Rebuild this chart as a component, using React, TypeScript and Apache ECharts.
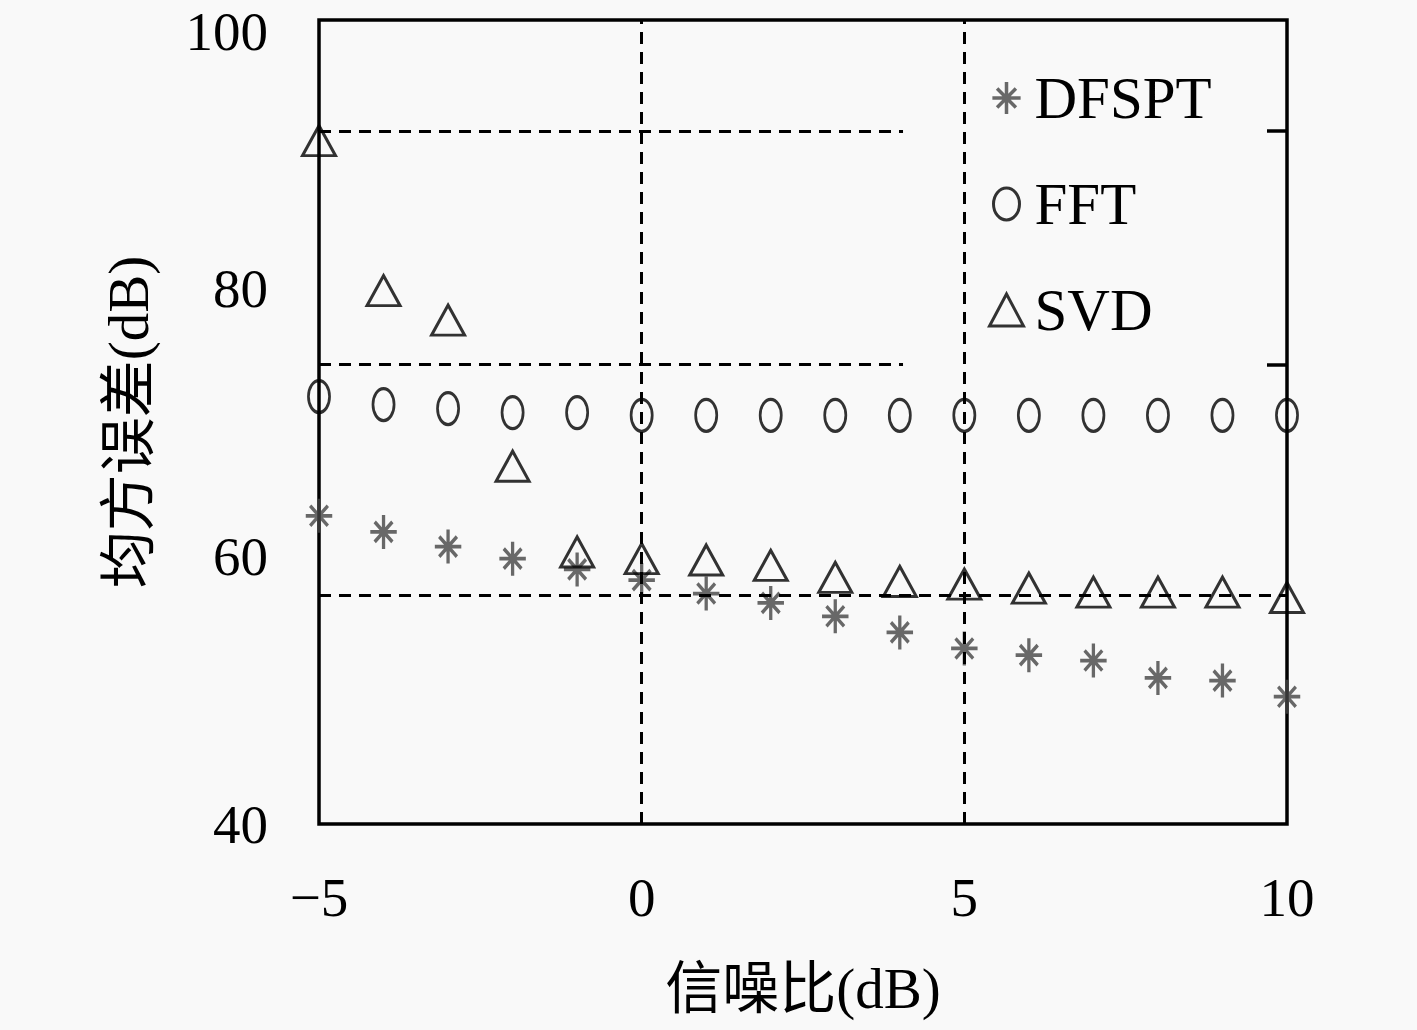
import React, { useEffect, useRef } from "react";
import * as echarts from "echarts";

const snr = [-5, -4, -3, -2, -1, 0, 1, 2, 3, 4, 5, 6, 7, 8, 9, 10];
const dfspt = [63.0, 61.8, 60.7, 59.8, 59.0, 58.2, 57.2, 56.5, 55.5, 54.3, 53.1, 52.6, 52.2, 50.9, 50.7, 49.5];
const fft = [71.9, 71.3, 71.0, 70.7, 70.7, 70.5, 70.5, 70.5, 70.5, 70.5, 70.5, 70.5, 70.5, 70.5, 70.5, 70.5];
const svd = [91.0, 79.8, 77.6, 66.7, 60.3, 59.8, 59.7, 59.3, 58.4, 58.1, 57.9, 57.6, 57.3, 57.3, 57.3, 56.9];

const seriesNames = ["DFSPT", "FFT", "SVD"];
const xTicks = [-5, 0, 5, 10];
const yTicks = [40, 60, 80, 100];

// reference lines
const hRefShort = [91.7, 74.3]; // dashed, from x=-5 to x=4.05
const hRefShortEnd = 4.05;
const hRefFull = [57.1];
const vRef = [0, 5];
const rightTicks = [91.7, 74.3];

const FONT = "'Liberation Serif', 'Noto Sans CJK SC', serif";
const STAR = "path://M0,-17L0,17M-15,0L15,0M-10,-10L10,10M-10,10L10,-10";
const ELLIPSE = "path://M0,-16A13,16 0 1 1 0,16A13,16 0 1 1 0,-16Z";

export default function App() {
  const ref = useRef<HTMLDivElement>(null);
  useEffect(() => {
    if (!ref.current) return;
    const chart = echarts.init(ref.current, null, { renderer: "svg" });
    const pts = (ys: number[]) => snr.map((x, i) => [x, ys[i]]);
    const dash = { color: "#000", width: 3, type: [12, 8] as any };
    const markData: any[] = [];
    hRefShort.forEach((v) =>
      markData.push([{ coord: [xTicks[0], v], lineStyle: dash }, { coord: [hRefShortEnd, v] }])
    );
    hRefFull.forEach((v) =>
      markData.push([{ coord: [xTicks[0], v], lineStyle: dash }, { coord: [xTicks[3], v] }])
    );
    vRef.forEach((x) =>
      markData.push([{ coord: [x, yTicks[0]], lineStyle: dash }, { coord: [x, yTicks[3]] }])
    );
    rightTicks.forEach((v) =>
      markData.push([
        { coord: [xTicks[3] - 0.31, v], lineStyle: { color: "#000", width: 3.5, type: "solid" } },
        { coord: [xTicks[3], v] },
      ])
    );

    const hollow = (c: string, w: number) => ({ color: "rgba(0,0,0,0)", borderColor: c, borderWidth: w });
    const labelBase = { fontFamily: FONT, fontSize: 55, color: "#000" };

    chart.setOption({
      animation: false,
      backgroundColor: "#f9f9f9",
      grid: {
        left: 319,
        top: 20,
        right: 130,
        bottom: 206,
        show: true,
        borderColor: "#000",
        borderWidth: 3.5,
        backgroundColor: "transparent",
        outerBoundsMode: "none",
        containLabel: false,
      },
      legend: {
        orient: "vertical",
        left: 983,
        top: 62,
        itemWidth: 34,
        itemHeight: 32,
        itemGap: 44,
        textStyle: { fontFamily: FONT, fontSize: 59, color: "#000", lineHeight: 62, padding: [0, 0, 0, 6] },
        data: [
          { name: "DFSPT", icon: STAR, itemStyle: hollow("#444", 3.5) },
          { name: "FFT", icon: ELLIPSE, itemStyle: hollow("#000", 3) },
          { name: "SVD", icon: "triangle", itemStyle: hollow("#000", 3) },
        ],
      },
      xAxis: {
        type: "value",
        min: -5,
        max: 10,
        interval: 5,
        name: "信噪比(dB)",
        nameLocation: "middle",
        nameGap: 136,
        nameTextStyle: { fontFamily: FONT, fontSize: 57, color: "#000" },
        axisLine: { show: false },
        axisTick: { show: false },
        splitLine: { show: false },
        axisLabel: {
          ...labelBase,
          margin: 46,
          formatter: (v: number) => String(v).replace("-", "\u2212"),
        },
      },
      yAxis: {
        type: "value",
        min: 40,
        max: 100,
        interval: 20,
        name: "均方误差(dB)",
        nameLocation: "middle",
        nameGap: 162,
        nameTextStyle: { fontFamily: FONT, fontSize: 57, color: "#000" },
        axisLine: { show: false },
        axisTick: { show: false },
        splitLine: { show: false },
        axisLabel: {
          ...labelBase,
          margin: 51,
          lineHeight: 22,
          verticalAlignMaxLabel: "top",
        },
      },
      series: [
        {
          name: "refs",
          type: "line",
          data: [],
          silent: true,
          z: 1,
          markLine: { silent: true, symbol: "none", label: { show: false }, animation: false, data: markData },
        },
        {
          name: seriesNames[0],
          type: "scatter",
          data: pts(dfspt),
          symbol: STAR,
          symbolSize: [30, 34],
          symbolKeepAspect: true,
          itemStyle: hollow("#444", 3.5),
          z: 3,
        },
        {
          name: seriesNames[1],
          type: "scatter",
          data: pts(fft),
          symbol: ELLIPSE,
          symbolSize: [26, 32],
          symbolKeepAspect: true,
          itemStyle: hollow("#000", 3),
          z: 3,
        },
        {
          name: seriesNames[2],
          type: "scatter",
          data: pts(svd),
          symbol: "triangle",
          symbolSize: [33, 30],
          itemStyle: hollow("#000", 3),
          z: 3,
        },
      ],
    });
    return () => chart.dispose();
  }, []);
  return (
    <div
      ref={ref}
      style={{ position: "fixed", left: 0, top: 0, width: 1417, height: 1030, background: "#f9f9f9" }}
    />
  );
}
